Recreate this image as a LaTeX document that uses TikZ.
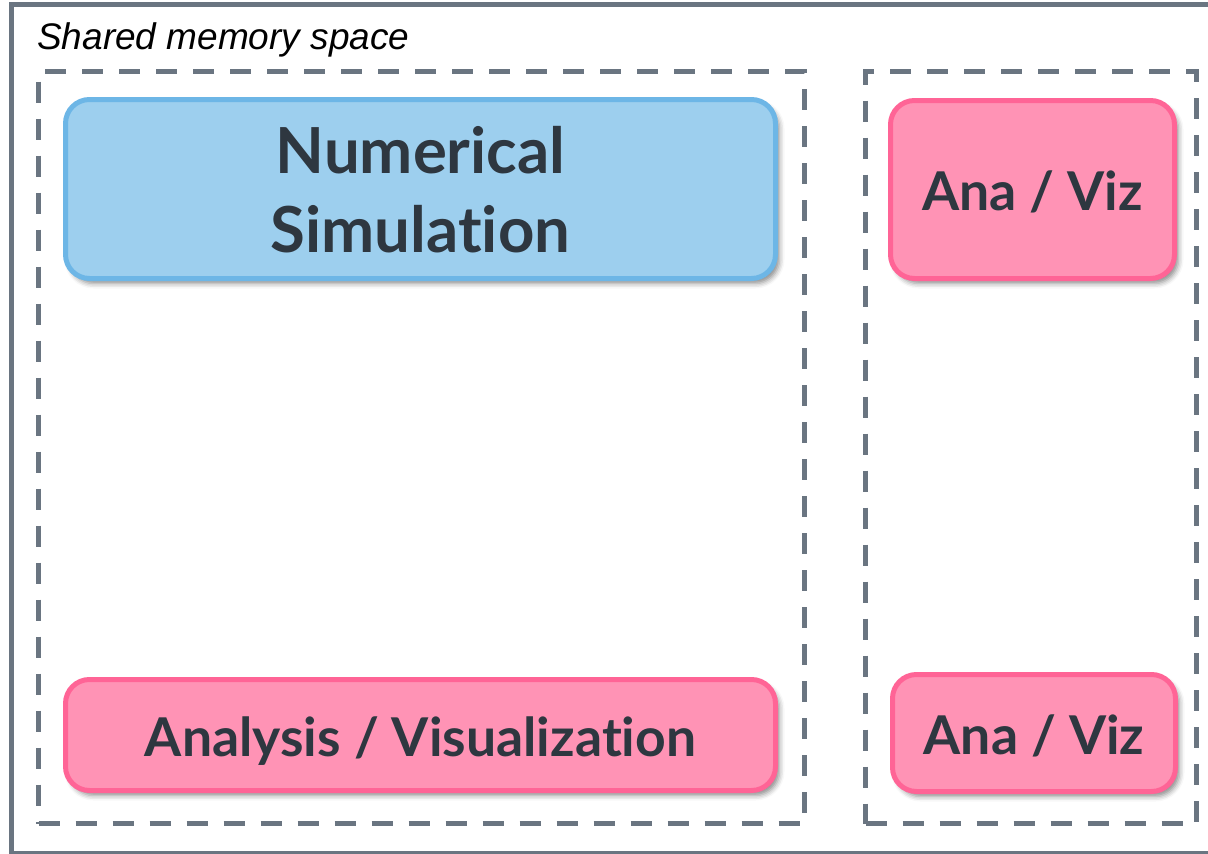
\documentclass[tikz,border=0pt]{standalone}
\usepackage{fontspec}
\setmainfont{Liberation Sans}
\newfontfamily\latofont[Ligatures={NoCommon,NoContextual}]{Lato}
\usetikzlibrary{shadows.blur}

\definecolor{framegray}{HTML}{6A7581}
\definecolor{simfill}{HTML}{9DCFEE}
\definecolor{simedge}{HTML}{6DB6E6}
\definecolor{anafill}{HTML}{FF93B5}
\definecolor{anaedge}{HTML}{FF6496}
\definecolor{inkdark}{HTML}{2E3740}

\tikzset{
  groupbox/.style={draw=framegray, line width=5pt, dash pattern=on 21pt off 16pt,
    rectangle, inner sep=0pt},
  taskbox/.style={rectangle, line width=5pt, inner sep=0pt, align=center,
    text=inkdark, rounded corners=24pt, text depth=0pt,
    blur shadow={shadow xshift=4pt, shadow yshift=-5pt, shadow blur radius=5pt,
      shadow opacity=45}},
  % fixed text height puts the last baseline at a set distance below the centre
  simbox/.style={taskbox, draw=simedge, fill=simfill, text height=126pt,
    font=\latofont\bfseries\fontsize{63.5}{79}\selectfont},
  anabox/.style={taskbox, draw=anaedge, fill=anafill, text height=42pt,
    font=\latofont\bfseries\fontsize{53.5}{60}\selectfont},
}

\begin{document}
\begin{tikzpicture}[x=1pt, y=-1pt]
  \useasboundingbox (0,0) rectangle (1208,854);
  \clip (0,0) rectangle (1208,854);

  % outer shared-memory frame (runs past the right edge)
  \draw[framegray, line width=5pt] (11.5,4) rectangle (1240,853.5);
  \node[anchor=base west, inner sep=0pt, font=\itshape\fontsize{37}{40}\selectfont]
    (title) at (37,49) {Shared memory space};

  % dashed groups
  \node[groupbox, minimum width=766pt, minimum height=752pt] (leftgroup) at (421.5,447.5) {};
  \node[groupbox, minimum width=331pt, minimum height=752pt] (rightgroup) at (1031,447.5) {};

  % tasks in the left group
  \node[simbox, minimum width=710pt, minimum height=179pt] (sim) at (420.5,189)
    {Numerical\\Simulation};
  \node[anabox, minimum width=710pt, minimum height=111pt] (anavis) at (420.5,735)
    {Analysis / Visualization};

  % tasks in the right group
  \node[anabox, minimum width=284pt, minimum height=178pt] (anatop) at (1032.5,189.5)
    {Ana / Viz};
  \node[anabox, minimum width=283pt, minimum height=117pt] (anabot) at (1034,733)
    {Ana / Viz};
\end{tikzpicture}
\end{document}
